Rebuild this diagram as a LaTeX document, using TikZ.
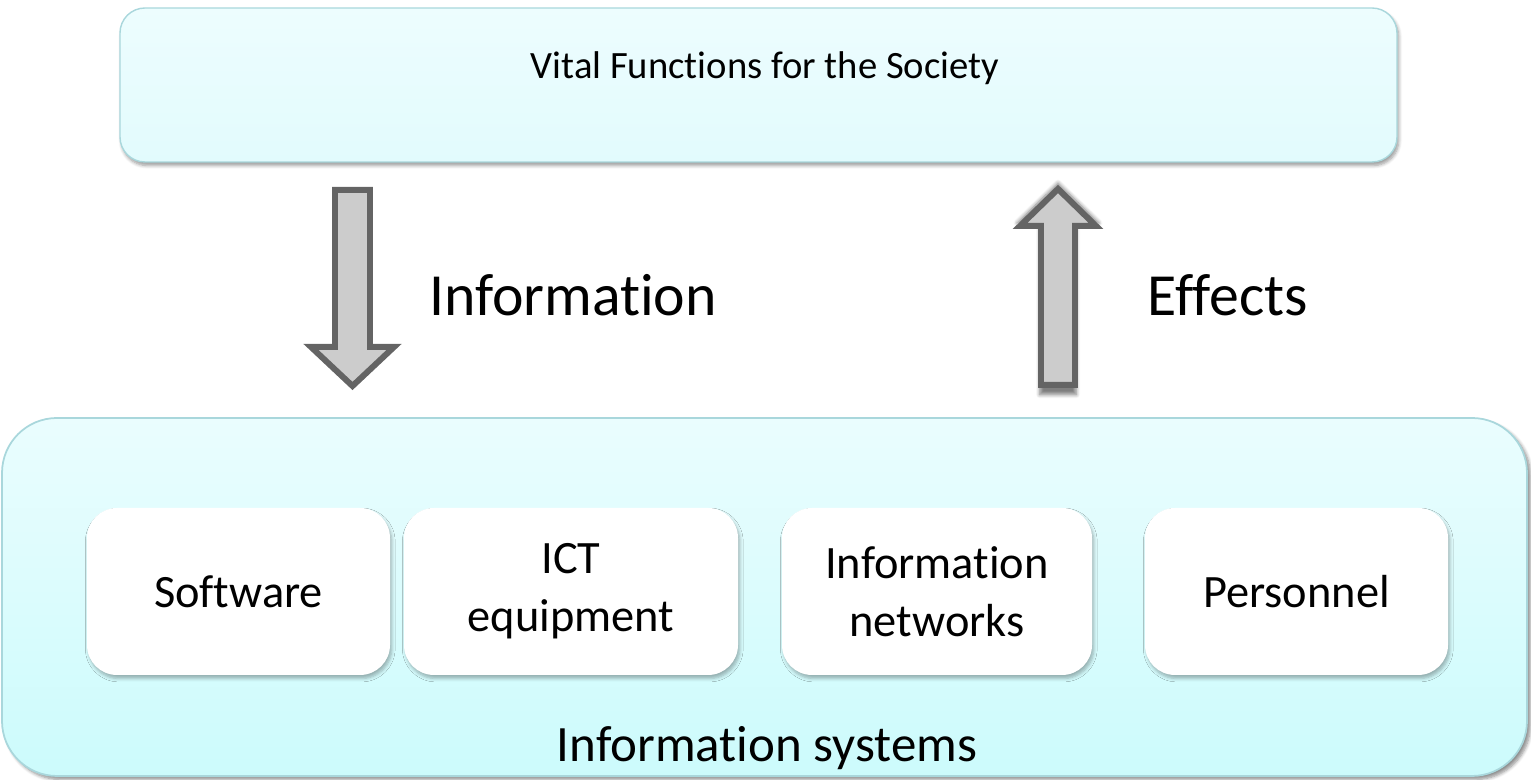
\documentclass[tikz,border=0pt]{standalone}
\usepackage{fontspec}
\setmainfont{Carlito}[Ligatures=NoCommon]
\usepackage{tikz}
\usetikzlibrary{shadows,shadows.blur}
\definecolor{boxedge}{HTML}{A9D7DC}
\definecolor{boxtop}{HTML}{EDFDFE}
\definecolor{boxbot}{HTML}{E2FBFD}
\definecolor{basetop}{HTML}{EAFDFE}
\definecolor{basebot}{HTML}{CCFBFC}
\definecolor{arrowedge}{HTML}{646464}
\definecolor{arrowfill}{HTML}{CCCCCC}
\tikzset{
	topbox/.style={draw=boxedge, line width=0.8pt, rounded corners=0.5cm, top color=boxtop, bottom color=boxbot,
		blur shadow={shadow xshift=1pt, shadow yshift=-2pt, shadow opacity=40, shadow blur steps=6}},
	basebox/.style={draw=boxedge, line width=1pt, rounded corners=1.1cm, top color=basetop, bottom color=basebot,
		blur shadow={shadow xshift=2pt, shadow yshift=-2pt, shadow opacity=45, shadow blur steps=6}},
	partbox/.style={fill=white, rounded corners=0.6cm, minimum height=3.34cm, align=center,
		font=\fontsize{26.4}{33}\selectfont,
		blur shadow={shadow xshift=1pt, shadow yshift=-2pt, shadow opacity=30, shadow blur steps=5}},
	bigarrow/.style={draw=arrowedge, fill=arrowfill, line width=3.4pt, line join=miter},
	flowlabel/.style={font=\fontsize{34}{40}\selectfont}
}

\begin{document}
\begin{tikzpicture}
		%%%%% START %%%%%
		
		\useasboundingbox (0, 0) rectangle (30.62, 15.6);
		
		% top box
		\node[topbox, minimum width=25.54cm, minimum height=3.08cm] (vital) at (15.17, 13.9) {};
		\node[font=\fontsize{22}{26}\selectfont] (vitaltxt) at (15.3, 14.24) {Vital Functions for the Society};
		
		% arrows
		\draw[bigarrow] (6.7, 11.8) -- (7.4, 11.8) -- (7.4, 8.66) -- (7.88, 8.66) -- (7.05, 7.88)
			-- (6.22, 8.66) -- (6.7, 8.66) -- cycle;
		\node[flowlabel] (info) at (11.46, 9.7) {Information};
		
		\draw[bigarrow, blur shadow={shadow xshift=0pt, shadow yshift=-1pt, shadow scale=1.08, shadow opacity=50, shadow blur steps=6}]
			(20.82, 7.9) -- (21.5, 7.9) -- (21.5, 11.08) -- (21.92, 11.08) -- (21.16, 11.82)
			-- (20.4, 11.08) -- (20.82, 11.08) -- cycle;
		\node[flowlabel] (effects) at (24.56, 9.7) {Effects};
		
		% bottom box
		\node[basebox, minimum width=30.5cm, minimum height=7.16cm] (systems) at (15.29, 3.66) {};
		
		\node[partbox, minimum width=6.06cm] (software) at (4.77, 3.77) {Software};
		\node[partbox, minimum width=6.68cm] (ict) at (11.42, 3.77) {ICT\\equipment};
		\node[partbox, minimum width=6.2cm] (networks) at (18.74, 3.77) {Information\\networks};
		\node[partbox, minimum width=6.06cm] (personnel) at (25.93, 3.77) {Personnel};
		
		\node[font=\fontsize{29}{34}\selectfont] (systemstxt) at (15.34, 0.64) {Information systems};
		
		%%%%% END %%%%%
	\end{tikzpicture}
\end{document}
